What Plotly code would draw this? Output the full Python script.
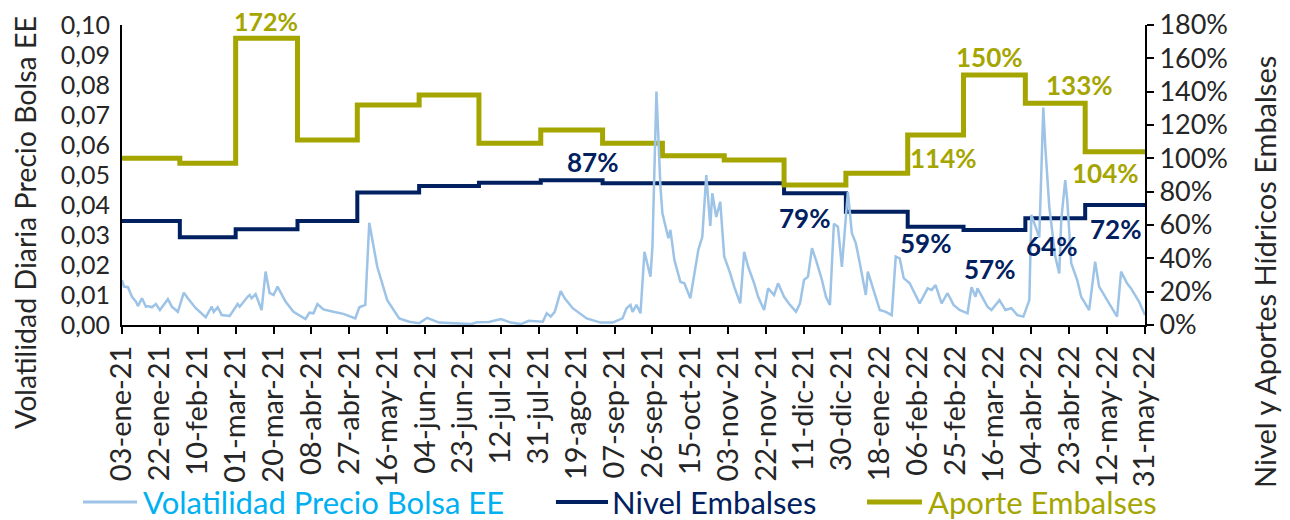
import pandas as pd
import plotly.graph_objects as go

# ---------------- data ----------------
fecha_inicio = "2021-01-03"
fecha_fin = "2022-05-31"

# Volatilidad diaria del precio de bolsa (día desde 03-ene-21, valor)
dias_vol = [0, 1, 3, 5, 7, 8, 10, 12, 13, 15, 17, 19, 23, 25, 28, 31, 33, 37, 42, 45,
            46, 48, 50, 54, 58, 59, 63, 64, 65, 67, 70, 72, 74, 76, 78, 82, 86, 92, 94, 96,
            98, 101, 106, 111, 117, 119, 122, 124, 128, 133, 139, 144, 149, 153, 159, 169, 175, 178, 184, 190,
            195, 200, 204, 211, 213, 215, 217, 220, 222, 226, 233, 240, 246, 251, 253, 255, 256, 258, 260, 262,
            265, 266, 268, 270, 271, 274, 275, 277, 280, 282, 285, 289, 291, 293, 295, 296, 298, 300, 302, 305,
            307, 310, 312, 314, 317, 319, 322, 324, 327, 329, 332, 335, 338, 340, 342, 344, 346, 348, 351, 353,
            355, 357, 359, 361, 364, 366, 368, 370, 373, 374, 377, 380, 383, 386, 388, 390, 392, 395, 400, 404,
            406, 408, 411, 414, 417, 420, 424, 426, 428, 429, 434, 436, 440, 443, 446, 449, 452, 455, 456, 458,
            460, 462, 463, 465, 467, 468, 470, 471, 473, 474, 476, 479, 481, 485, 488, 490, 495, 499, 501, 504,
            506, 510, 513]
vol = [0.0150, 0.0128, 0.0126, 0.0094, 0.0078, 0.0063, 0.0089, 0.0061, 0.0063, 0.0059, 0.0070, 0.0050, 0.0086, 0.0061, 0.0044, 0.0108, 0.0089, 0.0056, 0.0026, 0.0061,
       0.0044, 0.0059, 0.0033, 0.0030, 0.0070, 0.0061, 0.0094, 0.0100, 0.0089, 0.0103, 0.0050, 0.0178, 0.0107, 0.0100, 0.0128, 0.0078, 0.0044, 0.0020, 0.0041, 0.0039,
       0.0070, 0.0052, 0.0044, 0.0037, 0.0022, 0.0059, 0.0067, 0.0341, 0.0194, 0.0083, 0.0022, 0.0011, 0.0006, 0.0024, 0.0008, 0.0006, 0.0003, 0.0009, 0.0010, 0.0020,
       0.0008, 0.0003, 0.0014, 0.0011, 0.0039, 0.0028, 0.0044, 0.0113, 0.0089, 0.0056, 0.0022, 0.0008, 0.0008, 0.0022, 0.0056, 0.0067, 0.0044, 0.0067, 0.0039, 0.0244,
       0.0161, 0.0261, 0.0778, 0.0461, 0.0372, 0.0289, 0.0317, 0.0217, 0.0144, 0.0139, 0.0089, 0.0250, 0.0294, 0.0500, 0.0330, 0.0439, 0.0360, 0.0411, 0.0228, 0.0172,
       0.0128, 0.0072, 0.0244, 0.0194, 0.0139, 0.0094, 0.0050, 0.0122, 0.0100, 0.0139, 0.0094, 0.0067, 0.0044, 0.0072, 0.0150, 0.0161, 0.0256, 0.0217, 0.0150, 0.0094,
       0.0067, 0.0337, 0.0328, 0.0194, 0.0444, 0.0306, 0.0272, 0.0206, 0.0100, 0.0178, 0.0117, 0.0050, 0.0044, 0.0033, 0.0228, 0.0222, 0.0156, 0.0139, 0.0072, 0.0122,
       0.0117, 0.0133, 0.0072, 0.0106, 0.0067, 0.0050, 0.0039, 0.0126, 0.0094, 0.0122, 0.0061, 0.0050, 0.0083, 0.0050, 0.0056, 0.0033, 0.0028, 0.0083, 0.0367, 0.0328,
       0.0292, 0.0725, 0.0594, 0.0394, 0.0283, 0.0228, 0.0172, 0.0350, 0.0483, 0.0417, 0.0206, 0.0150, 0.0094, 0.0050, 0.0211, 0.0128, 0.0072, 0.0028, 0.0178, 0.0139,
       0.0122, 0.0078, 0.0033]

# Niveles y aportes mensuales (%)
fechas_mes = ["2021-01-03", "2021-02-01", "2021-03-01", "2021-04-01", "2021-05-01", "2021-06-01",
              "2021-07-01", "2021-08-01", "2021-09-01", "2021-10-01", "2021-11-01", "2021-12-01",
              "2022-01-01", "2022-02-01", "2022-03-01", "2022-04-01", "2022-05-01"]
nivel = [62.4, 52.6, 57.4, 62.4, 79.5, 83.4, 85.3, 86.8, 85.0, 85.0, 85.0, 79.0,
         68.0, 59.0, 57.0, 64.0, 72.0]
aporte = [100, 97, 172, 111, 132, 138, 109, 117, 109, 101.5, 99, 84,
          91, 114, 150, 133, 104]

etiquetas_x = ["03-ene-21", "22-ene-21", "10-feb-21", "01-mar-21", "20-mar-21", "08-abr-21", "27-abr-21",
               "16-may-21", "04-jun-21", "23-jun-21", "12-jul-21", "31-jul-21", "19-ago-21", "07-sep-21",
               "26-sep-21", "15-oct-21", "03-nov-21", "22-nov-21", "11-dic-21", "30-dic-21", "18-ene-22",
               "06-feb-22", "25-feb-22", "16-mar-22", "04-abr-22", "23-abr-22", "12-may-22", "31-may-22"]
paso_ticks_dias = 19
ticks_pct = [0.0, 0.2, 0.4, 0.6, 0.8, 1.0, 1.2, 1.4, 1.6, 1.8]

series_nombres = ["Volatilidad Precio Bolsa EE", "Nivel Embalses", "Aporte Embalses"]

# ---------------- build ----------------
t0 = pd.Timestamp(fecha_inicio)
x_vol = t0 + pd.to_timedelta(dias_vol, unit="D")
x_mes = list(pd.to_datetime(fechas_mes)) + [pd.Timestamp(fecha_fin)]
nivel_f = [v / 100 for v in nivel] + [nivel[-1] / 100]
aporte_f = [v / 100 for v in aporte] + [aporte[-1] / 100]
tickvals = [t0 + pd.Timedelta(days=paso_ticks_dias * i) for i in range(len(etiquetas_x))]

C_VOL = "#9DC3E6"
C_VOL_TXT = "#00B0F0"
C_NIV = "#002060"
C_APO = "#A5A500"
C_TXT = "#262626"
FONT = "Lato"

fig = go.Figure()
fig.add_trace(go.Scatter(x=x_mes, y=nivel_f, mode="lines", line=dict(color=C_NIV, width=4, shape="hv"),
                         name=series_nombres[1], yaxis="y", showlegend=False))
fig.add_trace(go.Scatter(x=x_mes, y=aporte_f, mode="lines", line=dict(color=C_APO, width=5, shape="hv"),
                         name=series_nombres[2], yaxis="y", showlegend=False))
fig.add_trace(go.Scatter(x=x_vol, y=vol, mode="lines", line=dict(color=C_VOL, width=2.5),
                         name=series_nombres[0], yaxis="y2", showlegend=False))

def lab(day, yv, text, color, yshift=0, size=26):
    fig.add_annotation(x=t0 + pd.Timedelta(days=day), y=yv, xref="x", yref="y", text=f"<b>{text}</b>",
                       showarrow=False, yshift=yshift, font=dict(family=FONT, size=size, color=color))

lab(72, 1.72, "172%", C_APO, yshift=17, size=25)
lab(236, 0.98, "87%", C_NIV)
lab(342, 0.64, "79%", C_NIV)
lab(403, 0.492, "59%", C_NIV)
lab(435, 0.336, "57%", C_NIV)
lab(466, 0.475, "64%", C_NIV)
lab(498, 0.578, "72%", C_NIV)
lab(435, 1.61, "150%", C_APO)
lab(480, 1.44, "133%", C_APO)
lab(412, 1.00, "114%", C_APO)
lab(493, 0.915, "104%", C_APO)

# axis titles as rotated annotations (positioned like the original)
fig.add_annotation(x=-0.0948, y=0.34, xref="paper", yref="paper", text="Volatilidad Diaria Precio Bolsa EE",
                   textangle=-90, showarrow=False, xanchor="center", yanchor="middle",
                   font=dict(family=FONT, size=28.5, color=C_TXT))
fig.add_annotation(x=1.1173, y=0.177, xref="paper", yref="paper", text="Nivel y Aportes Hídricos Embalses",
                   textangle=-90, showarrow=False, xanchor="center", yanchor="middle",
                   font=dict(family=FONT, size=29, color=C_TXT))

# legend drawn as keys + coloured labels below the plot
leg_y = -0.59
leg_items = [
    (-0.0381, 0.0147, 0.0186, C_VOL, 3, C_VOL_TXT),
    (0.4242, 0.4751, 0.4770, C_NIV, 4, C_NIV),
    (0.7283, 0.7820, 0.7859, C_APO, 5, C_APO),
]
for name, (x0, x1, xt, lc, lw, tc) in zip(series_nombres, leg_items):
    fig.add_shape(type="line", xref="paper", yref="paper", x0=x0, x1=x1, y0=leg_y, y1=leg_y,
                  line=dict(color=lc, width=lw))
    fig.add_annotation(x=xt, y=leg_y, xref="paper", yref="paper", text=name, showarrow=False,
                       xanchor="left", yanchor="middle", font=dict(family=FONT, size=31, color=tc))

fig.update_layout(
    width=1282, height=512,
    margin=dict(l=114, r=145, t=17, b=195, autoexpand=False),
    paper_bgcolor="white", plot_bgcolor="white",
    separators=",.",
    font=dict(family=FONT, size=22, color=C_TXT),
    showlegend=False,
    xaxis=dict(range=[t0, pd.Timestamp(fecha_fin)], tickmode="array", tickvals=tickvals, ticktext=etiquetas_x,
               tickangle=-90, ticks="outside", ticklen=7, tickwidth=2, tickcolor="black", automargin=False,
               showline=True, linecolor="black", linewidth=2, showgrid=False, zeroline=False,
               ticklabeloverflow="allow",
               tickfont=dict(family=FONT, size=29, color=C_TXT)),
    yaxis=dict(range=[0, 1.8000001], tickmode="array", tickvals=ticks_pct, tickformat=".0%", side="right",
               showgrid=False, zeroline=False, ticklabeloverflow="allow",
               ticks="outside", ticklen=7, tickwidth=2, tickcolor="black", automargin=False,
               showline=True, linecolor="black", linewidth=2,
               tickfont=dict(family=FONT, size=27, color=C_TXT)),
    yaxis2=dict(range=[0, 0.10], dtick=0.01, tickformat=".2f", side="left", overlaying="y", showgrid=False,
                zeroline=False, ticks="", showline=True, linecolor="black", linewidth=2, automargin=False,
                ticklabelstandoff=5, ticklabeloverflow="allow",
                tickfont=dict(family=FONT, size=25, color=C_TXT)),
)

fig.write_html("out.html")
